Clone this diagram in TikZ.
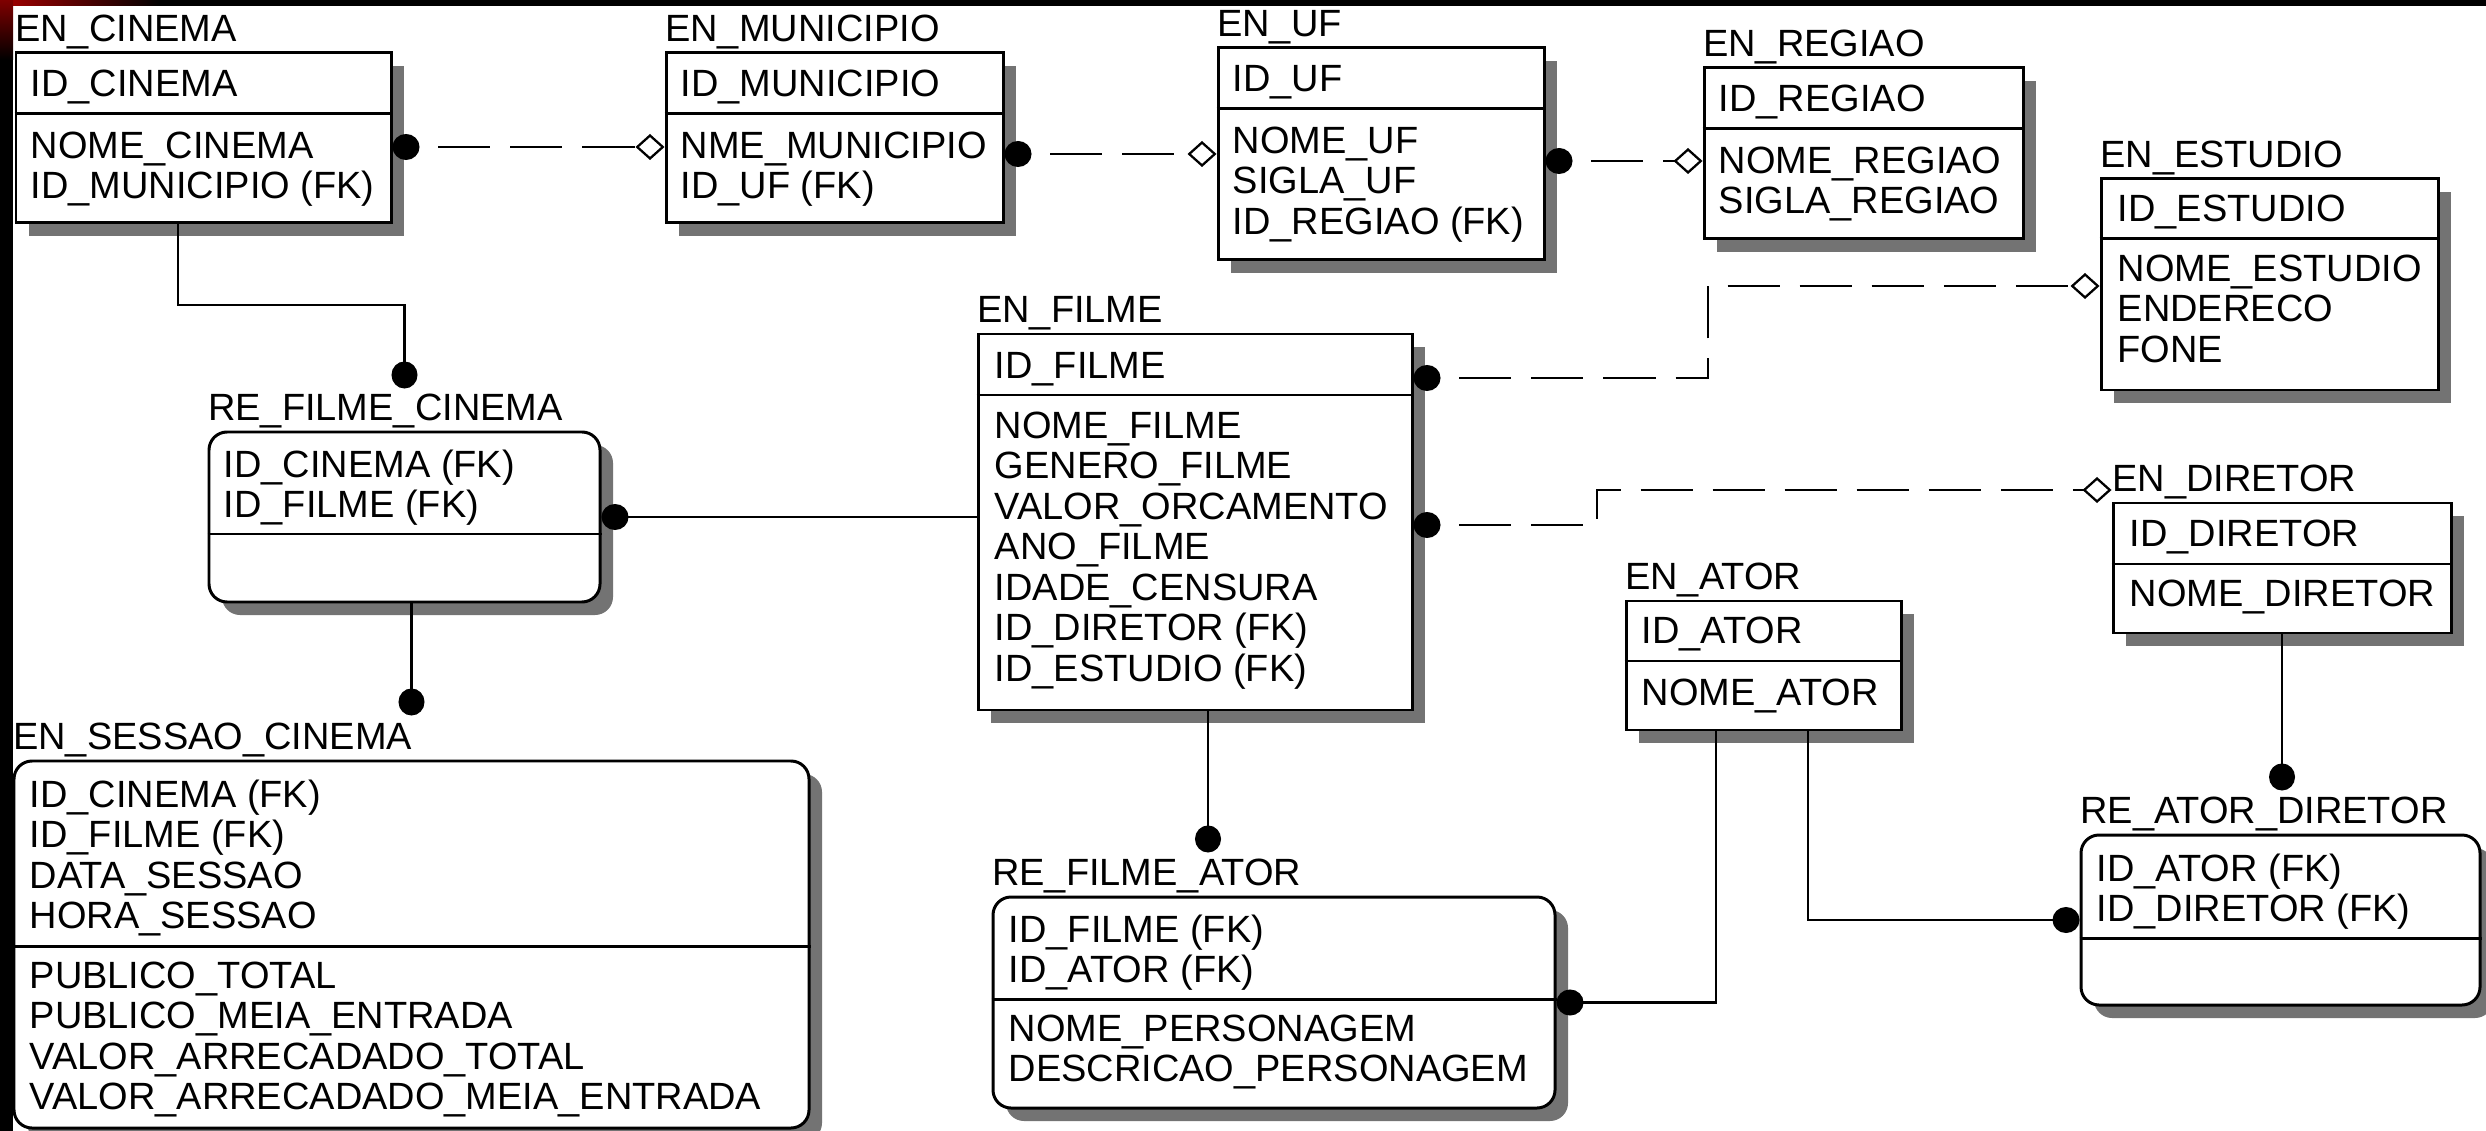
\documentclass[tikz,border=0pt]{standalone}
\usepackage{fontspec}
\setmainfont{Liberation Sans}
\usetikzlibrary{arrows.meta,fit,shadows}

\begin{document}
\begin{tikzpicture}[x=0.01cm,y=-0.01cm,
  ent/.style={draw,line width=.85pt,fill=white,inner sep=0pt,
    drop shadow={shadow xshift=.13cm,shadow yshift=-.13cm,fill=black!55,opacity=1}},
  dep/.style={ent,rounded corners=.18cm},
  txt/.style={anchor=north west,inner sep=0pt,align=left,yshift=.138cm,
    font=\fontsize{10.8}{11.52}\selectfont},
  lbl/.style={anchor=base west,inner sep=0pt,yshift=.1cm,font=\fontsize{10.8}{11.52}\selectfont},
  fk/.style={line width=.65pt,dash pattern=on .52cm off .2cm,dash phase=.52cm,
    {Circle[length=.27cm,width=.26cm]}-{Diamond[open,length=.29cm,width=.26cm]}},
  rel/.style={line width=.65pt,-{Circle[length=.27cm,width=.26cm]}}]
  \useasboundingbox (0,0) rectangle (2486,1131);
  \fill[white] (0,0) rectangle (2486,1131);
  \fill[black] (0,0) rectangle (2486,6);
  \fill[black] (0,0) rectangle (13,1131);
  \shade[left color=red!65!black,right color=black] (0,0) rectangle (160,6);
  \shade[top color=red!50!black,bottom color=black] (0,0) rectangle (13,60);

  \node[ent,fit={(16,53)(391,223)}] (cin) {};
  \node[ent,fit={(666,53)(1003,223)}] (mun) {};
  \node[ent,fit={(1218,48)(1544,260)}] (uf) {};
  \node[ent,fit={(1704,68)(2023,239)}] (reg) {};
  \node[ent,fit={(2101,179)(2438,390)}] (est) {};
  \node[ent,fit={(978,334)(1412,710)}] (fil) {};
  \node[ent,fit={(2113,503)(2451,633)}] (dir) {};
  \node[ent,fit={(1626,601)(1901,730)}] (ator) {};
  \node[dep,fit={(209,432)(600,602)}] (rfc) {};
  \node[dep,fit={(14,761)(809,1128)}] (ses) {};
  \node[dep,fit={(993,897)(1555,1108)}] (rfa) {};
  \node[dep,fit={(2081,835)(2480,1005)}] (rad) {};
  \foreach \n/\y in {cin/114,mun/114,uf/109,reg/129,est/239,fil/395,dir/564,ator/661,rfc/534,ses/946,rfa/999,rad/938}
    \draw[line width=.85pt] (\n.west |- 0,\y) -- (\n.east |- 0,\y);

  \node[lbl] (cin-l) at (cin.north west) {EN\_CINEMA};
  \node[lbl] (mun-l) at (mun.north west) {EN\_MUNICIPIO};
  \node[lbl] (uf-l) at (uf.north west) {EN\_UF};
  \node[lbl] (reg-l) at (reg.north west) {EN\_REGIAO};
  \node[lbl] (est-l) at (est.north west) {EN\_ESTUDIO};
  \node[lbl] (fil-l) at (fil.north west) {EN\_FILME};
  \node[lbl] (dir-l) at (dir.north west) {EN\_DIRETOR};
  \node[lbl] (ator-l) at (ator.north west) {EN\_ATOR};
  \node[lbl] (rfc-l) at (rfc.north west) {RE\_FILME\_CINEMA};
  \node[lbl] (ses-l) at (ses.north west) {EN\_SESSAO\_CINEMA};
  \node[lbl] (rfa-l) at (rfa.north west) {RE\_FILME\_ATOR};
  \node[lbl] (rad-l) at (rad.north west) {RE\_ATOR\_DIRETOR};

  \node[txt] (cin-k) at (30,83) {ID\_CINEMA};
  \node[txt] (cin-a) at (30,145) {NOME\_CINEMA\\ID\_MUNICIPIO (FK)};
  \node[txt] (mun-k) at (680,83) {ID\_MUNICIPIO};
  \node[txt] (mun-a) at (680,145) {NME\_MUNICIPIO\\ID\_UF (FK)};
  \node[txt] (uf-k) at (1232,78) {ID\_UF};
  \node[txt] (uf-a) at (1232,140) {NOME\_UF\\SIGLA\_UF\\ID\_REGIAO (FK)};
  \node[txt] (reg-k) at (1718,98) {ID\_REGIAO};
  \node[txt] (reg-a) at (1718,160) {NOME\_REGIAO\\SIGLA\_REGIAO};
  \node[txt] (est-k) at (2117,208) {ID\_ESTUDIO};
  \node[txt] (est-a) at (2117,268) {NOME\_ESTUDIO\\ENDERECO\\FONE};
  \node[txt] (fil-k) at (994,365) {ID\_FILME};
  \node[txt] (fil-a) at (994,425) {NOME\_FILME\\GENERO\_FILME\\VALOR\_ORCAMENTO\\ANO\_FILME\\IDADE\_CENSURA\\ID\_DIRETOR (FK)\\ID\_ESTUDIO (FK)};
  \node[txt] (dir-k) at (2129,533) {ID\_DIRETOR};
  \node[txt] (dir-a) at (2129,593) {NOME\_DIRETOR};
  \node[txt] (ator-k) at (1641,630) {ID\_ATOR};
  \node[txt] (ator-a) at (1641,692) {NOME\_ATOR};
  \node[txt] (rfc-k) at (223,463) {ID\_CINEMA (FK)\\ID\_FILME (FK)};
  \node[txt] (ses-k) at (29,793) {ID\_CINEMA (FK)\\ID\_FILME (FK)\\DATA\_SESSAO\\HORA\_SESSAO};
  \node[txt] (ses-a) at (29,975) {PUBLICO\_TOTAL\\PUBLICO\_MEIA\_ENTRADA\\VALOR\_ARRECADADO\_TOTAL\\VALOR\_ARRECADADO\_MEIA\_ENTRADA};
  \node[txt] (rfa-k) at (1008,928) {ID\_FILME (FK)\\ID\_ATOR (FK)};
  \node[txt] (rfa-a) at (1008,1028) {NOME\_PERSONAGEM\\DESCRICAO\_PERSONAGEM};
  \node[txt] (rad-k) at (2096,867) {ID\_ATOR (FK)\\ID\_DIRETOR (FK)};

  \draw[fk] (cin.east |- 0,147) -- (mun.west |- 0,147);
  \draw[fk] (mun.east |- 0,154) -- (uf.west |- 0,154);
  \draw[fk] (uf.east |- 0,161) -- (reg.west |- 0,161);
  \draw[fk] (fil.east |- 0,378) -| (1708,286) -- (est.west |- 0,286);
  \draw[fk] (fil.east |- 0,525) -| (1597,490) -- (dir.west |- 0,490);

  \draw[rel,shorten >=.42cm] (cin.south -| 178,0) |- (rfc.north |- 0,305) -- (rfc.north);
  \draw[rel] (fil.west |- rfc.east) -- (rfc.east);
  \draw[rel,shorten >=.44cm] (rfc.south -| ses.north) -- (ses.north);
  \draw[rel,shorten >=.43cm] (fil.south -| 1208,0) -- (rfa.north -| 1208,0);
  \draw[rel] (ator.south -| 1716,0) |- (rfa.east);
  \draw[rel] (ator.south -| 1808,0) |- (rad.west);
  \draw[rel,shorten >=.43cm] (dir.south) -- (dir.south |- rad.north);
\end{tikzpicture}
\end{document}
